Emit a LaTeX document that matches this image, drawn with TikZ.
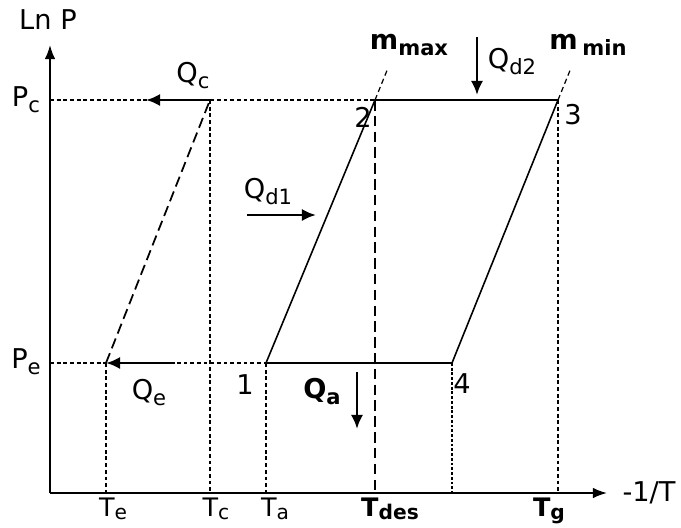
\documentclass[tikz,border=0pt]{standalone}
\usepackage{fontspec}
\setmainfont{DejaVu Sans}
\usetikzlibrary{arrows.meta,positioning}
\newcommand{\sbs}[1]{\raisebox{-0.4ex}{\fontsize{12}{13}\selectfont #1}}
\newcommand{\tsbs}[1]{\raisebox{-0.25ex}{\fontsize{11.5}{13}\selectfont #1}}

\begin{document}
\begin{tikzpicture}[x=0.02cm,y=-0.02cm,
    lbl/.style={inner sep=0pt,font=\fontsize{15.5}{17}\selectfont},
    blbl/.style={lbl,font=\fontsize{15.5}{17}\selectfont\bfseries},
    tlbl/.style={inner sep=0pt,anchor=base,font=\fontsize{14.5}{16}\selectfont},
    guide/.style={line width=0.75pt,dash pattern=on 2.2pt off 1.6pt},
    heat/.style={line width=1.7pt,-{Latex[length=8pt,width=7pt]}},
    cycle/.style={line width=0.9pt}]
        \useasboundingbox (0,0) rectangle (681,528);
        % Define points
        \coordinate (O) at (50,493);
        \coordinate (Ytip) at (50,45);
        \coordinate (Xtip) at (607,493);
        \coordinate (Pc) at (50,100);
        \coordinate (Pe) at (50,363);
        \coordinate (E) at (106,363);
        \coordinate (C) at (210,100);
        \coordinate (P1) at (266,363);
        \coordinate (P2) at (375,100);
        \coordinate (P3) at (558,100);
        \coordinate (P4) at (452,363);
        \coordinate (M2) at (388,68);
        \coordinate (M3) at (571,68);
        % feet on the x axis
        \coordinate (Te) at (106,493);
        \coordinate (Tc) at (210,493);
        \coordinate (Ta) at (266,493);
        \coordinate (Td) at (375,493);
        \coordinate (T4) at (452,493);
        \coordinate (Tg) at (558,493);
        %Axis
        \draw[line width=1pt,-{Latex[length=8pt,width=6pt]}] (O) -- (Ytip);
        \draw[line width=1pt,-{Latex[length=8pt,width=6pt]}] (O) -- (Xtip);
        \node[lbl] (lnp) at (48,20) {Ln P};
        \node[lbl] (xlab) at (649,493) {-1/T};
        \node[lbl] (pclab) at (26,100) {P\sbs{c}};
        \node[lbl] (pelab) at (26,362) {P\sbs{e}};
        %Guide lines
        \draw[guide] (Pc) -- (P2);
        \draw[guide] (Pe) -- (P1);
        \draw[guide] (E) -- (Te);
        \draw[guide] (C) -- (Tc);
        \draw[guide] (P1) -- (Ta);
        \draw[line width=0.7pt,dash pattern=on 1.6pt off 1.1pt] (P4) -- (T4);
        \draw[guide] (P3) -- (Tg);
        \draw[line width=0.7pt,dash pattern=on 6pt off 3pt] (P2) -- (Td);
        \draw[line width=0.7pt,dash pattern=on 3pt off 2pt] (P2) -- (M2);
        \draw[line width=0.7pt,dash pattern=on 3pt off 2pt] (P3) -- (M3);
        %Draw cycle
        \draw[line width=1pt,dash pattern=on 6pt off 3pt] (E) -- (C);
        \draw[cycle] (P1) -- (P2) -- (P3) -- (P4) -- cycle;
        %Heat flows
        \coordinate (qe0) at (175,363);
        \coordinate (qc1) at (146,100);
        \coordinate (qd1a) at (247,215);
        \coordinate (qd1b) at (316,215);
        \coordinate (qd2a) at (477,37);
        \coordinate (qd2b) at (477,95);
        \coordinate (qaa) at (357,372);
        \coordinate (qab) at (357,429);
        \draw[heat] (C) -- (qc1);
        \draw[heat] (qe0) -- (E);
        \draw[heat] (qd1a) -- (qd1b);
        \draw[heat] (qd2a) -- (qd2b);
        \draw[heat] (qaa) -- (qab);
        \node[lbl] (qc) at (193,76) {Q\sbs{c}};
        \node[lbl] (qe) at (149,393) {Q\sbs{e}};
        \node[lbl] (qd1) at (268,192) {Q\sbs{d1}};
        \node[lbl] (qd2) at (512,62) {Q\sbs{d2}};
        \node[blbl] (qa) at (322,392) {Q\sbs{a}};
        \node[blbl] (mmax) at (409,45) {m\sbs{max}};
        \node[blbl] (mmin) at (588,45) {m\,\sbs{min}};
        % Label the states
        \node[lbl] (n1) at (245,385) {1};
        \node[lbl] (n2) at (363,117) {2};
        \node[lbl] (n3) at (573,115) {3};
        \node[lbl] (n4) at (462,384) {4};
        % Label the temperatures
        \node[tlbl] (te) at (113,516) {T\tsbs{e}};
        \node[tlbl] (tc) at (216,516) {T\tsbs{c}};
        \node[tlbl] (ta) at (275,516) {T\tsbs{a}};
        \node[tlbl,font=\fontsize{14.5}{16}\selectfont\bfseries] (tdes) at (390,516) {T\tsbs{des}};
        \node[tlbl,font=\fontsize{14.5}{16}\selectfont\bfseries] (tg) at (549,516) {T\tsbs{g}};
\end{tikzpicture}
\end{document}
